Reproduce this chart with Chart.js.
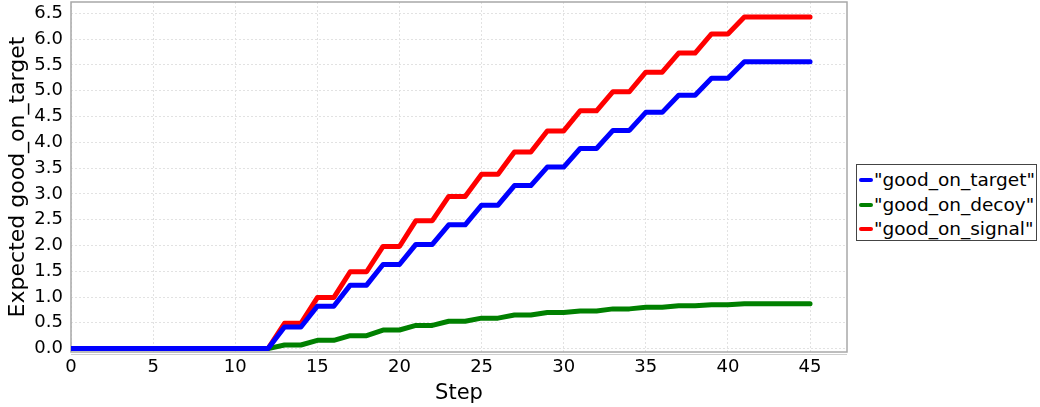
<!DOCTYPE html>
<html>
<head>
<meta charset="utf-8">
<script src="https://cdn.jsdelivr.net/npm/chart.js@4.4.1/dist/chart.umd.min.js"></script>
<style>
  html, body { margin:0; padding:0; background:#fff; }
  #wrap { position:relative; width:1040px; height:407px; }
  #legend {
    position:absolute; left:856px; top:164px; width:179px; height:75px;
    border:1px solid #444; background:#fff;
    font-family:"DejaVu Sans", sans-serif; font-size:18.5px; color:#000;
  }
  .lg-row { position:absolute; left:0; height:24px; line-height:24px; white-space:nowrap; }
  .lg-line { position:absolute; left:2px; top:10px; width:14px; height:4px; border-radius:2px; }
  .lg-text { position:absolute; left:17px; top:0; }
</style>
</head>
<body>
<div id="wrap">
  <canvas id="chart" width="1040" height="407"></canvas>
  <div id="legend"></div>
</div>
<script>
// ── DATA ──
const steps = [0,1,2,3,4,5,6,7,8,9,10,11,12,13,14,15,16,17,18,19,20,21,22,23,24,25,26,27,28,29,30,31,32,33,34,35,36,37,38,39,40,41,42,43,44,45];
const goodOnTarget = [0,0,0,0,0,0,0,0,0,0,0,0,0,0.42,0.42,0.82,0.82,1.23,1.23,1.63,1.63,2.02,2.02,2.40,2.40,2.78,2.78,3.16,3.16,3.52,3.52,3.88,3.88,4.23,4.23,4.58,4.58,4.91,4.91,5.24,5.24,5.56,5.56,5.56,5.56,5.56];
const goodOnDecoy  = [0,0,0,0,0,0,0,0,0,0,0,0,0,0.07,0.07,0.16,0.16,0.25,0.25,0.36,0.36,0.45,0.45,0.53,0.53,0.59,0.59,0.65,0.65,0.70,0.70,0.73,0.73,0.77,0.77,0.80,0.80,0.83,0.83,0.85,0.85,0.87,0.87,0.87,0.87,0.87];
const goodOnSignal = [0,0,0,0,0,0,0,0,0,0,0,0,0,0.49,0.49,0.99,0.99,1.49,1.49,1.98,1.98,2.48,2.48,2.95,2.95,3.38,3.38,3.81,3.81,4.22,4.22,4.61,4.61,4.98,4.98,5.36,5.36,5.73,5.73,6.10,6.10,6.43,6.43,6.43,6.43,6.43];
const seriesLabels = ['"good_on_target"', '"good_on_decoy"', '"good_on_signal"'];
const seriesColors = ['#0000ff', '#008000', '#ff0000'];
const xTicks = [0,5,10,15,20,25,30,35,40,45];
const yTicks = [0,0.5,1,1.5,2,2.5,3,3.5,4,4.5,5,5.5,6,6.5];

const FONT = '"DejaVu Sans", sans-serif';
const toPts = vals => steps.map((s, i) => ({ x: s, y: vals[i] }));

// frame around plot area
const frame = {
    id: 'frame',
    beforeDatasetsDraw(chart) {
        const { ctx, chartArea: a } = chart;
        ctx.save();
        ctx.strokeStyle = '#a8a8a8';
        ctx.lineWidth = 1.5;
        ctx.strokeRect(a.left, a.top, a.right - a.left, a.bottom - a.top);
        ctx.strokeStyle = '#cfcfcf';
        ctx.lineWidth = 1;
        ctx.beginPath();
        ctx.moveTo(a.left, a.bottom + 2.5); ctx.lineTo(a.right, a.bottom + 2.5);
        ctx.stroke();
        ctx.restore();
    }
};

const datasets = [goodOnTarget, goodOnDecoy, goodOnSignal].map((vals, i) => ({
    label: seriesLabels[i],
    data: toPts(vals),
    borderColor: seriesColors[i],
    backgroundColor: seriesColors[i],
    borderWidth: 5,
    pointRadius: 0,
    tension: 0,
    borderJoinStyle: 'round',
    borderCapStyle: 'round'
}));

new Chart(document.getElementById('chart'), {
    type: 'line',
    data: { datasets },
    options: {
        responsive: false,
        animation: false,
        layout: { padding: { top: 2, right: 193, left: 0, bottom: 0 } },
        plugins: { legend: { display: false }, tooltip: { enabled: false } },
        scales: {
            x: {
                type: 'linear', min: 0, max: 47.25,
                afterBuildTicks: s => { s.ticks = xTicks.map(v => ({ value: v })); },
                afterFit: s => { s.height = 55; s.paddingLeft = 0; s.paddingRight = 0; },
                ticks: { color: '#000', font: { family: FONT, size: 18 }, padding: 5, maxRotation: 0 },
                grid: { color: '#e2e2e2', drawTicks: false },
                border: { display: false, dash: [2, 2] },
                title: { display: true, text: 'Step', color: '#000', font: { family: FONT, size: 21 }, padding: { top: 0, bottom: 1 } }
            },
            y: {
                type: 'linear', min: -0.066, max: 6.72,
                afterBuildTicks: s => { s.ticks = yTicks.map(v => ({ value: v })); },
                afterFit: s => { s.width = 71; s.paddingTop = 0; s.paddingBottom = 0; },
                ticks: { color: '#000', font: { family: FONT, size: 18 }, padding: 8, callback: v => v.toFixed(1) },
                grid: { color: '#e2e2e2', drawTicks: false },
                border: { display: false, dash: [2, 2] },
                title: { display: true, text: 'Expected good_on_target', color: '#000', font: { family: FONT, size: 22 }, padding: { top: 5, bottom: 0 } }
            }
        }
    },
    plugins: [frame]
});

// legend
document.getElementById('legend').innerHTML = seriesLabels.map((l, i) =>
    `<div class="lg-row" style="top:${3 + i * 24.5}px">
        <div class="lg-line" style="background:${seriesColors[i]}"></div>
        <div class="lg-text">${l.replace(/"/g, '&quot;')}</div>
    </div>`
).join('');
</script>
</body>
</html>
